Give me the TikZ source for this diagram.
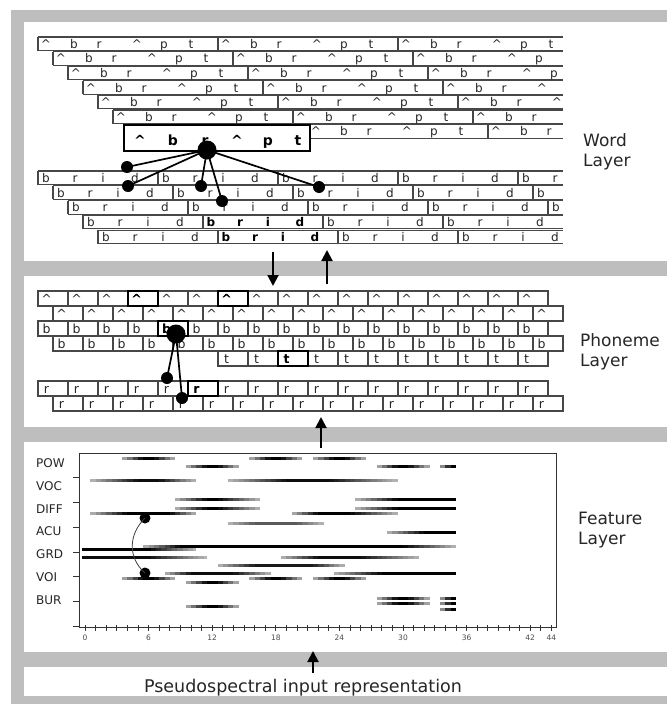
\documentclass[tikz,border=0pt]{standalone}
\usepackage{fontspec}
\setmainfont{DejaVu Sans}
\usetikzlibrary{arrows.meta}
\definecolor{band}{RGB}{190,190,190}
\newcommand\wordrow[3]{%
  \draw[rowline] (#3,#2) -- (563,#2) (#3,#2+13.5) -- (563,#2+13.5);
  \foreach \j in {0,1,2}{%
    \pgfmathsetmacro\ws{#3+180*\j}%
    \draw[rowline] (\ws,#2) -- (\ws,#2+13.5);
    \foreach \o/\c [count=\i] in {8/\textasciicircum,36/b,61/r,99/\textasciicircum,126/p,153/t}{%
      \pgfmathsetmacro\lx{\ws+\o}%
      \ifdim\lx pt<560pt\relax \node[wl] (w#1-\j-\i) at (\lx,#2+11.2) {\c};\fi
    }%
  }%
}
\newcommand\bridrow[4]{%
  \draw[rowline] (#3,#2) -- (563,#2) (#3,#2+13.5) -- (563,#2+13.5);
  \foreach \j in {0,...,4}{%
    \pgfmathsetmacro\ws{#3+120*\j}%
    \ifdim\ws pt<563pt\relax \draw[rowline] (\ws,#2) -- (\ws,#2+13.5);\fi
    \foreach \o/\c [count=\i] in {8/b,37/r,65/i,97/d}{%
      \pgfmathsetmacro\lx{\ws+\o}%
      \ifdim\lx pt<560pt\relax
        \ifnum\j=#4\relax \node[wlb] (b#1-\j-\i) at (\lx,#2+11.2) {\c};%
        \else \node[wl] (b#1-\j-\i) at (\lx,#2+11.2) {\c};\fi
      \fi
    }%
  }%
}
\newcommand\phrow[5]{%
  \foreach \i in {1,...,#4}{%
    \pgfmathsetmacro\bx{#3+30*(\i-1)}%
    \draw[rowline] (\bx,#2) rectangle ++(30,15);
    \node[pl] (#1-\i) at (\bx+8.5,#2+12.2) {#5};
  }%
}
\newcommand\fbar[6]{%
  \pgfmathtruncatemacro\fbn{ceil((#3-(#2))/0.5)}%
  \foreach \q in {1,...,\fbn}{%
    \pgfmathsetmacro\sa{#2+0.5*(\q-1)}%
    \pgfmathsetmacro\sb{min(#2+0.5*\q,#3)}%
    \pgfmathsetmacro\sm{(\sa+\sb)/2}%
    \pgfmathsetmacro\ff{\sm<#4 ? (\sm-(#2))/max(#4-(#2),0.01) : (\sm>#5 ? (#3-\sm)/max(#3-#5,0.01) : 1)}%
    \pgfmathtruncatemacro\pc{28+(#6-28)*max(0,min(1,\ff))}%
    \draw[draw=black!\pc, line width=3pt] ({85+10.6*\sa},#1) -- ({85+10.6*\sb},#1);
  }%
}
\begin{document}
\begin{tikzpicture}[x=1pt,y=-1pt,
  rowline/.style={draw=black!72, line width=1.1pt},
  wl/.style={font=\fontsize{12}{12}\selectfont, text=black!85, inner sep=0, anchor=base},
  wlb/.style={font=\fontsize{12}{12}\selectfont\bfseries, text=black, inner sep=0, anchor=base},
  wbl/.style={font=\fontsize{14}{14}\selectfont\bfseries, text=black, inner sep=0, anchor=base},
  pl/.style={font=\fontsize{12.5}{12.5}\selectfont, text=black!85, inner sep=0, anchor=base},
  plb/.style={font=\fontsize{12.5}{12.5}\selectfont\bfseries, text=black, inner sep=0, anchor=base},
  pbold/.style={draw=black, line width=2.4pt, minimum width=30pt, minimum height=15pt, inner sep=0},
  bigdot/.style={circle, fill=black, inner sep=0, minimum size=19pt},
  smalldot/.style={circle, fill=black, inner sep=0, minimum size=12pt},
  fdot/.style={circle, fill=black, inner sep=0, minimum size=11pt},
  conn/.style={line width=1.7pt},
  arr/.style={line width=2pt, -{Triangle[width=11pt,length=11pt]}},
  layerlabel/.style={font=\fontsize{17}{17}\selectfont, anchor=west, inner sep=0, text=black!85},
  fl/.style={font=\fontsize{12}{12}\selectfont, anchor=west, inner sep=0, text=black!85},
  axl/.style={font=\fontsize{7.5}{7.5}\selectfont, inner sep=0, text=black!70}]
\useasboundingbox (0,0) rectangle (667,704);
\fill[white] (0,0) rectangle (667,704);
\fill[band] (11,10) rectangle (667,704);
\fill[white] (24,22) rectangle (667,261);
\fill[white] (24,276) rectangle (667,427);
\fill[white] (24,442) rectangle (667,652);
\fill[white] (24,667) rectangle (667,696);

% ---------------- Word layer
\wordrow{0}{37}{38}
\wordrow{1}{51.6}{53}
\wordrow{2}{66.2}{68}
\wordrow{3}{80.8}{83}
\wordrow{4}{95.4}{98}
\wordrow{5}{110}{113}
% row 7
\draw[rowline] (310,124.6) -- (563,124.6) (310,138.1) -- (563,138.1);
\draw[rowline] (488,124.6) -- (488,138.1);
\foreach \o/\c [count=\i] in {316/\textasciicircum,344/b,369/r,407/\textasciicircum,434/p,461/t,496/\textasciicircum,524/b,549/r}{%
  \node[wl] (w6-\i) at (\o,135.8) {\c};}
\node[draw=black, line width=2.8pt, minimum width=186pt, minimum height=26pt, inner sep=0] (wbox) at (217,138) {};
\foreach \o/\c [count=\i] in {140/\textasciicircum,173/b,205/r,237/\textasciicircum,268/p,298/t}{%
  \node[wbl] (wb-\i) at (\o,145.5) {\c};}

\bridrow{0}{171}{38}{-1}
\bridrow{1}{185.8}{53}{-1}
\bridrow{2}{200.6}{68}{-1}
\bridrow{3}{215.4}{83}{1}
\bridrow{4}{230.2}{98}{1}

\node[bigdot] (wd) at (207,150) {};
\node[smalldot] (wd1) at (127,167) {};
\node[smalldot] (wd2) at (128,186) {};
\node[smalldot] (wd3) at (201,186) {};
\node[smalldot] (wd4) at (222,201) {};
\node[smalldot] (wd5) at (319,187) {};
\foreach \k in {1,...,5}{\draw[conn] (wd.center) -- (wd\k.center);}

\node[layerlabel] (lw1) at (583,140) {Word};
\node[layerlabel] (lw2) at (583,162) {Layer};

% ---------------- Phoneme layer
\phrow{pa}{291}{38}{17}{\textasciicircum}
\phrow{pA}{306}{53}{17}{\textasciicircum}
\phrow{pb}{321}{38}{17}{b}
\phrow{pB}{336}{53}{17}{b}
\phrow{pt}{351}{218}{11}{t}
\phrow{pr}{381}{38}{17}{r}
\phrow{pR}{396}{53}{17}{r}
\node[pbold] (pk1) at (143,298.5) {};
\node[pbold] (pk2) at (233,298.5) {};
\node[pbold] (pk3) at (173,328.5) {};
\node[pbold] (pk4) at (293,358.5) {};
\node[pbold] (pk5) at (203,388.5) {};
\node[plb] (pkl1) at (136.5,303.2) {\textasciicircum};
\node[plb] (pkl2) at (226.5,303.2) {\textasciicircum};
\node[plb] (pkl3) at (166.5,333.2) {b};
\node[plb] (pkl4) at (286.5,363.2) {t};
\node[plb] (pkl5) at (196.5,393.2) {r};
\node[bigdot] (pd) at (176,334) {};
\node[smalldot] (pd1) at (167,378) {};
\node[smalldot] (pd2) at (182,398) {};
\draw[conn] (pd.center) -- (pd1.center);
\draw[conn] (pd.center) -- (pd2.center);
\node[layerlabel] (lp1) at (580,340) {Phoneme};
\node[layerlabel] (lp2) at (580,362) {Layer};

% ---------------- Feature layer
\fbar{458}{3.5}{8.5}{5.5}{6.5}{100}\fbar{458}{15.5}{20.5}{17.5}{18.5}{100}\fbar{458}{21.5}{26.5}{23.5}{24.5}{100}
\fbar{466}{9.5}{14.5}{11.5}{12.5}{100}\fbar{466}{27.5}{32.5}{29.5}{30.5}{100}\fbar{466}{33.5}{35}{34.5}{35}{100}
\fbar{480}{0.5}{10.5}{5}{7}{95}\fbar{480}{13.5}{29.5}{19}{23}{95}
\fbar{499}{8.5}{16.5}{11.5}{12.5}{100}\fbar{499}{25.5}{35}{29.5}{35}{100}
\fbar{508}{8.5}{16.5}{11.5}{12.5}{100}\fbar{508}{25.5}{35}{29.5}{35}{100}
\fbar{513}{0.5}{10.5}{4}{8}{100}\fbar{513}{19.5}{29.5}{22}{25}{100}
\fbar{523}{13.5}{22.5}{16}{20}{65}
\fbar{532}{28.5}{35}{32}{35}{100}
\fbar{546}{5.5}{35}{9}{30}{100}
\fbar{549}{-0.3}{10.5}{-0.3}{6}{100}
\fbar{557}{-0.3}{11.5}{-0.3}{6}{95}\fbar{557}{18.5}{31.5}{22}{26}{95}
\fbar{565}{12.5}{24.5}{16}{21.5}{90}
\fbar{573}{7.5}{17.5}{10}{14}{95}\fbar{573}{23.5}{35}{28}{35}{100}
\fbar{578}{3.5}{8.5}{5.5}{6.5}{100}\fbar{578}{15.5}{20.5}{17.5}{18.5}{100}\fbar{578}{21.5}{26.5}{23.5}{24.5}{100}
\fbar{582}{9.5}{14.5}{11.5}{12.5}{100}
\fbar{598}{27.5}{32.5}{29.5}{30.5}{100}\fbar{598}{33.5}{35}{34.5}{35}{100}
\fbar{603}{27.5}{32.5}{29.5}{30.5}{100}\fbar{603}{33.5}{35}{34.5}{35}{100}
\fbar{606}{9.5}{14.5}{11.5}{12.5}{100}
\fbar{609}{33.5}{35}{34.5}{35}{100}

\draw[line width=1pt, black!80] (79,453) rectangle (556,627);
\foreach \k in {1,...,7}{\draw[line width=0.9pt, black!80] (73,{453+24.75*\k}) -- (79,{453+24.75*\k});}
\foreach \t in {0,...,44}{\draw[line width=0.8pt, black!80] ({85+10.6*\t},625) -- ({85+10.6*\t},631);}
\foreach \t in {0,6,12,18,24,30,36,42,44}{\node[axl] (ax\t) at ({85+10.6*\t},638) {\t};}
\foreach \n/\y in {POW/463,VOC/486,DIFF/509,ACU/531,GRD/554,VOI/577,BUR/600}{\node[fl] (f\n) at (36,\y) {\n};}
\node[fdot] (fd1) at (145,518) {};
\node[fdot] (fd2) at (145,573) {};
\draw[line width=0.8pt, black!75] (fd1.center) .. controls (128,535) and (128,558) .. (fd2.center);
\node[layerlabel] (lf1) at (578,518) {Feature};
\node[layerlabel] (lf2) at (578,540) {Layer};

% ---------------- arrows and input
\coordinate (a1s) at (273,252); \coordinate (a1e) at (273,286);
\coordinate (a2s) at (327,284); \coordinate (a2e) at (327,250);
\coordinate (a3s) at (321,448); \coordinate (a3e) at (321,417);
\coordinate (a4s) at (313,673); \coordinate (a4e) at (313,651);
\draw[arr] (a1s) -- (a1e);
\draw[arr] (a2s) -- (a2e);
\draw[arr] (a3s) -- (a3e);
\draw[arr] (a4s) -- (a4e);
\node[font=\fontsize{17.5}{17.5}\selectfont, inner sep=0, text=black!85] (inp) at (303,688) {Pseudospectral input representation};
\end{tikzpicture}
\end{document}
